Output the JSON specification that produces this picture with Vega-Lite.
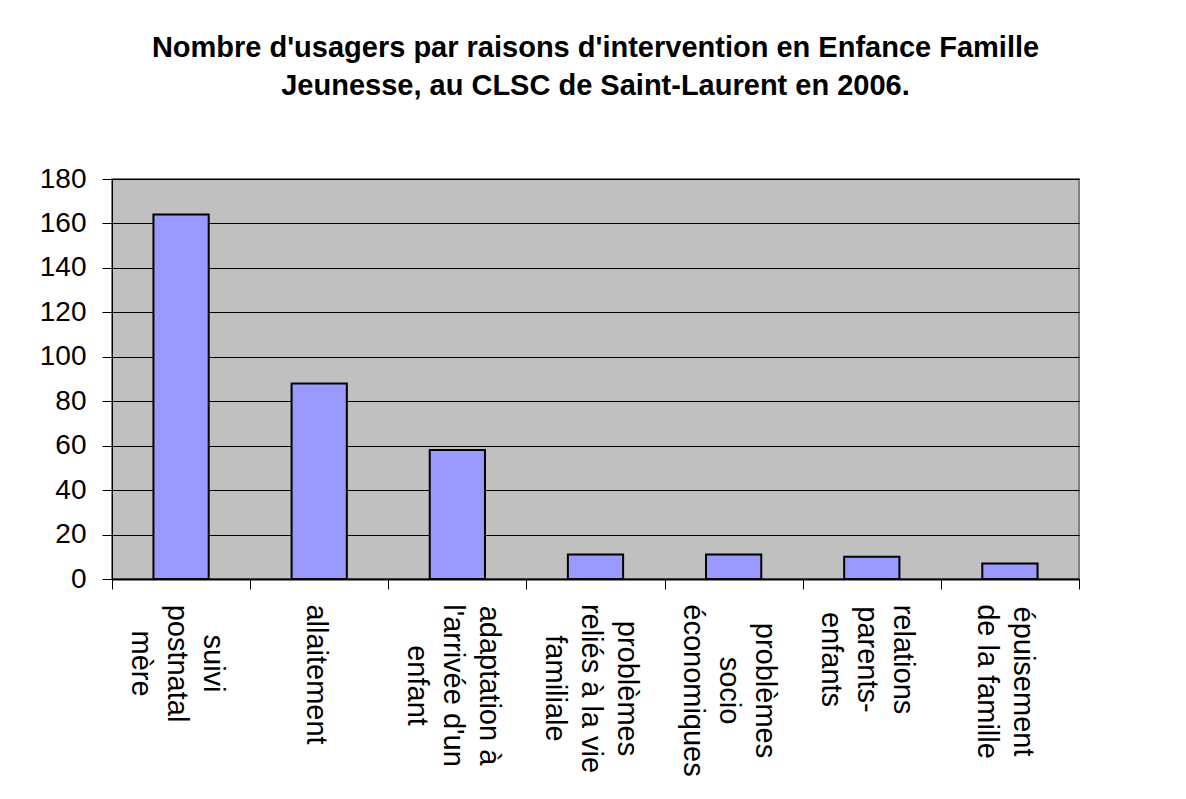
{
  "$schema": "https://vega.github.io/schema/vega-lite/v6.json",
  "width": 967,
  "height": 400,
  "padding": {"left": 39, "top": 34, "right": 10, "bottom": 5},
  "background": "white",
  "title": {
    "text": ["Nombre d'usagers par raisons d'intervention en Enfance Famille", "Jeunesse, au CLSC de Saint-Laurent en 2006."],
    "font": "Liberation Sans",
    "fontSize": 29,
    "fontWeight": "bold",
    "color": "black",
    "lineHeight": 38,
    "offset": 64,
    "anchor": "middle"
  },
  "data": {
    "values": [
      {"raison": "suivi\npostnatal\nmère", "usagers": 164},
      {"raison": "allaitement", "usagers": 88},
      {"raison": "adaptation à\nl'arrivée d'un\nenfant", "usagers": 58},
      {"raison": "problèmes\nreliés à la vie\nfamiliale", "usagers": 11},
      {"raison": "problèmes\nsocio\néconomiques", "usagers": 11},
      {"raison": "relations\nparents-\nenfants", "usagers": 10},
      {"raison": "épuisement\nde la famille", "usagers": 7}
    ]
  },
  "mark": {"type": "bar", "fill": "#9999FF", "stroke": "black", "strokeWidth": 2, "width": {"band": 0.4}},
  "encoding": {
    "x": {
      "field": "raison",
      "type": "nominal",
      "sort": null,
      "scale": {"paddingInner": 0, "paddingOuter": 0},
      "axis": {
        "title": null,
        "labelExpr": "split(datum.label, '\\n')",
        "labelAngle": 90,
        "labelAlign": "center",
        "labelBaseline": "middle",
        "labelFont": "Liberation Sans",
        "labelFontSize": 29,
        "labelColor": "black",
        "labelLineHeight": 36,
        "labelPadding": {
          "condition": [
            {"test": "datum.value === 'suivi\\npostnatal\\nmère'", "value": 74},
            {"test": "datum.value === 'allaitement'", "value": 85},
            {"test": "datum.value === 'adaptation à\\nl\\'arrivée d\\'un\\nenfant'", "value": 96},
            {"test": "datum.value === 'problèmes\\nreliés à la vie\\nfamiliale'", "value": 99},
            {"test": "datum.value === 'problèmes\\nsocio\\néconomiques'", "value": 101},
            {"test": "datum.value === 'relations\\nparents-\\nenfants'", "value": 70}
          ],
          "value": 92
        },
        "labelOffset": {
          "condition": [
            {"test": "datum.value === 'allaitement'", "value": -4},
            {"test": "datum.value === 'épuisement\\nde la famille'", "value": 13}
          ],
          "value": 31
        },
        "labelOverlap": false,
        "tickBand": "extent",
        "tickSize": 10,
        "tickColor": "black",
        "tickWidth": 1,
        "domainColor": "black",
        "domainWidth": 2,
        "grid": false
      }
    },
    "y": {
      "field": "usagers",
      "type": "quantitative",
      "scale": {"domain": [0, 180], "nice": false},
      "axis": {
        "title": null,
        "values": [0, 20, 40, 60, 80, 100, 120, 140, 160, 180],
        "grid": true,
        "gridColor": "black",
        "gridWidth": 1,
        "tickSize": 10,
        "tickColor": "black",
        "domainColor": "black",
        "domainWidth": 1,
        "labelFont": "Liberation Sans",
        "labelFontSize": 28,
        "labelColor": "black",
        "labelPadding": 16
      }
    }
  },
  "config": {
    "view": {"fill": "#C0C0C0", "stroke": "#808080", "strokeWidth": 2}
  }
}
